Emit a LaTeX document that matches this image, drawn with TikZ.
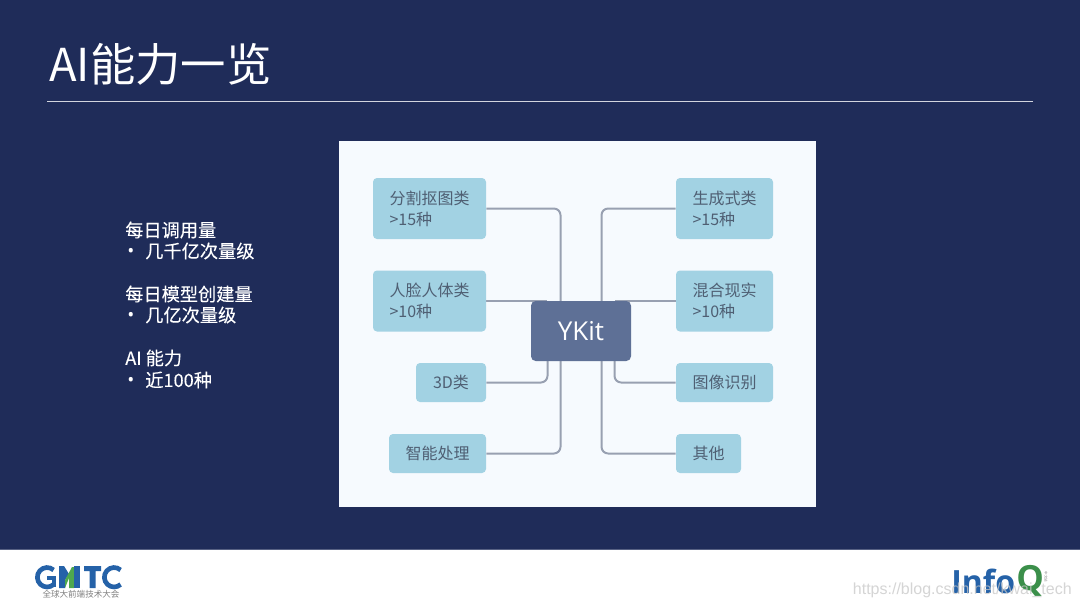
\documentclass[tikz,border=0pt]{standalone}
\usepackage{fontspec}
\setmainfont{Noto Sans CJK SC}
\newfontfamily\latinf{Open Sans}
\newfontfamily\sidef[FakeBold=0.1]{Noto Sans CJK SC}
\newfontfamily\wmf{Liberation Sans}
\usetikzlibrary{calc,backgrounds}
\definecolor{navy}{HTML}{1F2C59}
\definecolor{panel}{HTML}{F6FAFE}
\definecolor{leaf}{HTML}{A2D2E3}
\definecolor{hubc}{HTML}{5E7096}
\definecolor{wire}{HTML}{98A0B1}
\definecolor{ink}{HTML}{4F5F73}
\definecolor{logob}{HTML}{2562A8}
\definecolor{logog}{HTML}{4EA84E}
\definecolor{qgreen}{HTML}{3B8F4A}
\tikzset{
 x=0.75pt,y=-0.75pt,
 leafbox/.style={fill=leaf,rounded corners=3pt,inner sep=0,text=ink,font=\fontsize{12pt}{15.75pt}\selectfont,align=left},
 wirel/.style={draw=wire,line width=1.5pt,rounded corners=5pt},
 side/.style={text=white,font=\sidef\fontsize{13.65pt}{16.5pt}\selectfont,anchor=west,inner sep=0},
 logostroke/.style={draw=logob,line width=3.5pt,line cap=butt}
}
\newcommand{\leafnode}[6]{\node[leafbox,minimum width=#4*0.75pt,minimum height=#5*0.75pt] (#1) at (#2,#3) {#6};}
\newcommand{\bul}{\makebox[15pt][l]{\hspace{1.5pt}{\latinf\fontsize{14pt}{14pt}\selectfont •}}}
\begin{document}
\begin{tikzpicture}
\useasboundingbox (0,0) rectangle (1080,608);
\node[anchor=west,inner sep=0,text=white,font=\fontsize{34pt}{38pt}\selectfont] (title) at (49,64) {AI能力一览};
\coordinate (ruleL) at (47,101.5); \coordinate (ruleR) at (1033,101.5);
\draw[white!80!navy,line width=0.9pt] (ruleL) -- (ruleR);
\node[side] (s1) at (125,230) {每日调用量};
\node[side] (s2) at (125,251) {\bul 几千亿次量级};
\node[side] (s3) at (125,294) {每日模型创建量};
\node[side] (s4) at (125,315) {\bul 几亿次量级};
\node[side] (s5) at (125,358) {AI 能力};
\node[side] (s6) at (125,380) {\bul 近100种};
\node[fill=hubc,rounded corners=3.5pt,minimum width=100*0.75pt,minimum height=60*0.75pt,inner sep=0,text=white,font=\latinf\fontsize{19.5pt}{22pt}\selectfont] (hub) at (581,331) {YKit};
\leafnode{a}{429.5}{208.5}{113}{61}{分割抠图类\\>15种}
\leafnode{b}{429.5}{301}{113}{61}{人脸人体类\\>10种}
\leafnode{c}{451}{382.5}{70}{39}{3D类}
\leafnode{d}{437.5}{453.5}{97}{39}{智能处理}
\leafnode{e}{724.5}{208.5}{97}{61}{生成式类\\>15种}
\leafnode{f}{724.5}{301}{97}{61}{混合现实\\>10种}
\leafnode{g}{724.5}{382.5}{97}{39}{图像识别}
\leafnode{h}{708.5}{453.5}{65}{39}{其他}
\coordinate (hT1) at ($(hub.north)+(-20.5,2)$); \coordinate (hT2) at ($(hub.north)+(20.5,2)$);
\coordinate (hB1) at ($(hub.south)+(-33.5,-2)$); \coordinate (hB2) at ($(hub.south)+(-20.5,-2)$);
\coordinate (hB3) at ($(hub.south)+(20.5,-2)$); \coordinate (hB4) at ($(hub.south)+(33.5,-2)$);
\coordinate (hL) at ($(hub.north)+(-34,0)$); \coordinate (hR) at ($(hub.north)+(34,0)$);
\begin{scope}[on background layer]
\fill[navy] (0,0) rectangle (1080,550);
\fill[white] (0,550) rectangle (1080,608);
\fill[navy!75!white] (0,549) rectangle (1080,550);
\node[fill=panel,minimum width=477*0.75pt,minimum height=366*0.75pt,inner sep=0] (panel) at (577.5,323.5) {};
\draw[wirel] (a.east) -| (hT1);
\draw[wirel] (e.west) -| (hT2);
\draw[wirel] (b.east) -- (hL |- b.east);
\draw[wirel] (f.west) -- (hR |- f.west);
\draw[wirel] (c.east) -| (hB1);
\draw[wirel] (d.east) -| (hB2);
\draw[wirel] (h.west) -| (hB3);
\draw[wirel] (g.west) -| (hB4);
\end{scope}
% GMTC logo
\draw[logostroke] (53.6,570) arc (48:312:7.3pt);
\draw[logostroke] (56,578) -- (47,578);
\draw[logostroke] (54,577) -- (54,587);
\fill[logob] (59,588) -- (59,566) -- (64,566) -- (69,574) -- (65,580) -- (65,588) -- cycle;
\fill[logog] (65,588) -- (65,580) -- (72,567) -- (74,567) -- (74,588) -- (69,588) -- (69,578) -- cycle;
\fill[logob] (74,566) -- (80,566) -- (80,588) -- (74,588) -- cycle;
\fill[logob] (84,566) -- (101,566) -- (101,571) -- (95.5,571) -- (95.5,588) -- (89.5,588) -- (89.5,571) -- (84,571) -- cycle;
\draw[logostroke] (120.6,570) arc (48:312:7.3pt);
\node[inner sep=0,text=gray,font=\fontsize{6.4pt}{7pt}\selectfont] (gmc) at (81,594.5) {全球大前端技术大会};
% InfoQ logo
\node[inner sep=0,anchor=west,text=logob,font=\latinf\bfseries\fontsize{24pt}{26pt}\selectfont] (iq) at (951,581) {Info};
\node[inner sep=0,anchor=west,text=qgreen,font=\latinf\bfseries\fontsize{26pt}{28pt}\selectfont] (iqq) at (1016,581) {Q};
\node[inner sep=0,rotate=-90,text=gray,font=\fontsize{2.6pt}{3pt}\selectfont] (iqc) at (1046,577) {中文站};
\node[inner sep=0,anchor=east,text=black!22,opacity=.75,font=\wmf\fontsize{12pt}{13pt}\selectfont] (wm) at (1072,590) {https://blog.csdn.net/kwai\_tech};
\end{tikzpicture}
\end{document}
